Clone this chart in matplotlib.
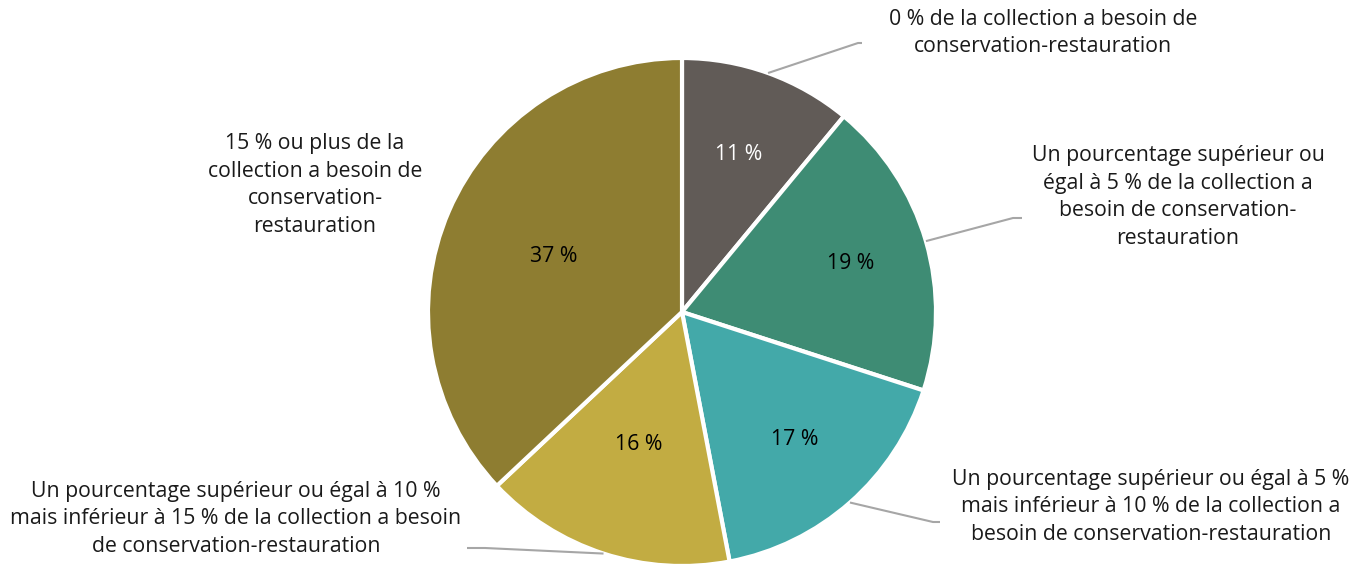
import matplotlib
matplotlib.use("Agg")
import matplotlib.pyplot as plt
import numpy as np

# ---- data ----
categories = [
    "0 % de la collection a besoin de\nconservation-restauration",
    "Un pourcentage supérieur ou\négal à 5 % de la collection a\nbesoin de conservation-\nrestauration",
    "Un pourcentage supérieur ou égal à 5 %\nmais inférieur à 10 % de la collection a\nbesoin de conservation-restauration",
    "Un pourcentage supérieur ou égal à 10 %\nmais inférieur à 15 % de la collection a besoin\nde conservation-restauration",
    "15 % ou plus de la\ncollection a besoin de\nconservation-\nrestauration",
]
values = [11, 19, 17, 16, 37]
pct_labels = ["11 %", "19 %", "17 %", "16 %", "37 %"]

# ---- style ----
colors = ["#615B57", "#3E8C74", "#43A9A9", "#C2AC42", "#8E7D31"]
pct_colors = ["white", "black", "black", "black", "black"]
pct_dist = [0.66, 0.69, 0.67, 0.55, 0.55]
W, H = 1367, 565
FONT = ["Open Sans", "DejaVu Sans"]
FS = 15.3

def P(x, y):
    return (x, H - y)

fig = plt.figure(figsize=(W / 100, H / 100), dpi=100)
ax = fig.add_axes([0, 0, 1, 1])
cx, cy = P(682, 312)
R = 254
wedges, _ = ax.pie(values, colors=colors, startangle=90, counterclock=False,
                   center=(cx, cy), radius=R,
                   wedgeprops=dict(edgecolor="white", linewidth=3))
ax.set_xlim(0, W)
ax.set_ylim(0, H)
ax.set_aspect("equal")
ax.axis("off")

# percentage labels
for w, t, c, d in zip(wedges, pct_labels, pct_colors, pct_dist):
    a = np.deg2rad((w.theta1 + w.theta2) / 2)
    ax.text(cx + d * R * np.cos(a), cy + d * R * np.sin(a), t, ha="center",
            va="center", fontsize=FS, color=c, family=FONT)

# category labels (positions) and leader lines
label_pos = [P(1043, 33), P(1178, 197), P(1151, 507), P(236, 519), P(315, 185)]
elbows = [[P(858, 43), P(862, 43)],
          [P(1013, 218), P(1022, 218)],
          [P(933, 522), P(940, 522)],
          [P(485, 548), P(467, 548)],
          None]
for w, lab, pos, el in zip(wedges, categories, label_pos, elbows):
    ax.text(pos[0], pos[1], lab, ha="center", va="center", fontsize=FS,
            color="#1A1A1A", family=FONT, linespacing=1.43)
    if el is not None:
        a = np.deg2rad((w.theta1 + w.theta2) / 2)
        sx, sy = cx + R * np.cos(a), cy + R * np.sin(a)
        xs = [sx] + [p[0] for p in el]
        ys = [sy] + [p[1] for p in el]
        ax.plot(xs, ys, color="#A6A6A6", lw=1.5, solid_capstyle="butt")

fig.savefig("out.png", dpi=100)
